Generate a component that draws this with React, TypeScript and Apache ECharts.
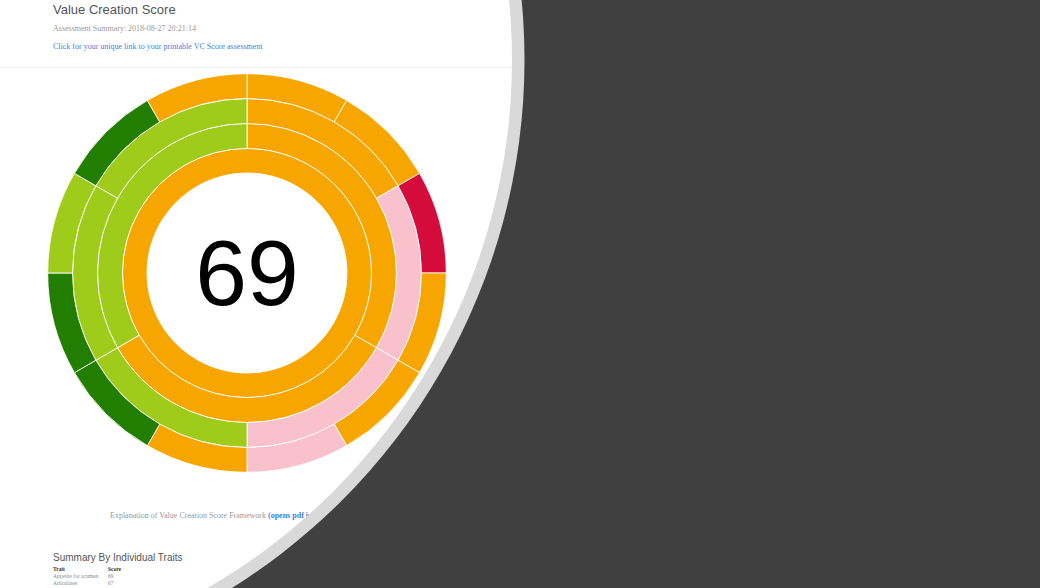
import React, { useEffect, useRef } from "react";
import * as echarts from "echarts";

// ---- data ----
const centerScore = "69";
// colour band of each node, ring by ring, clockwise from 12 o'clock
const ring1Bands = ["mid"];
const ring2Bands = ["mid", "mid", "good"];
const ring3Bands = ["mid", "low", "low", "good", "good", "good"];
const ring4Bands = ["mid", "mid", "poor", "mid", "mid", "low", "mid", "top", "top", "good", "top", "mid"];
const bandColors: Record<string, string> = {
  top: "#217E00",
  good: "#9FCC1B",
  mid: "#F7A600",
  low: "#F9C1CC",
  poor: "#D30C3C",
};
const traitRows = [
  ["Appetite for acumen", "69"],
  ["Articulates", "67"],
];

function buildTree() {
  let leafIdx = 0;
  let l3Idx = 0;
  const ring2 = ring2Bands.map((b2, i) => {
    const ch3 = [0, 1].map(() => {
      const b3 = ring3Bands[l3Idx];
      const idx3 = l3Idx++;
      const ch4 = [0, 1].map(() => {
        const b4 = ring4Bands[leafIdx];
        const idx4 = leafIdx++;
        return { name: "Trait " + (idx4 + 1), value: 1, itemStyle: { color: bandColors[b4] } };
      });
      return { name: "Facet " + (idx3 + 1), itemStyle: { color: bandColors[b3] }, children: ch4 };
    });
    return { name: "Dimension " + (i + 1), itemStyle: { color: bandColors[b2] }, children: ch3 };
  });
  return [{ name: "Value Creation", itemStyle: { color: bandColors[ring1Bands[0]] }, children: ring2 }];
}

function txt(x: number, y: number, text: string, size: number, fill: string, family: string, weight: any = "normal", align = "left", z = 5) {
  return {
    type: "text",
    x,
    y,
    z,
    style: {
      text,
      fontSize: size,
      fontFamily: family,
      fontWeight: weight,
      fill,
      align,
      verticalAlign: "middle",
      textAlign: align,
      textVerticalAlign: "middle",
    },
  };
}

export default function App() {
  const ref = useRef<HTMLDivElement>(null);
  useEffect(() => {
    const chart = echarts.init(ref.current!, undefined, { renderer: "svg" });
    const sans = "'Liberation Sans', Arial, sans-serif";
    const serif = "'Liberation Serif', 'Times New Roman', serif";
    const CX = -98, CY = 60, RW = 610, RG = 623;
    chart.setOption({
      animation: false,
      backgroundColor: "#ffffff",
      series: [
        {
          type: "sunburst",
          center: [247, 273],
          sort: null,
          startAngle: 90,
          nodeClick: false,
          data: buildTree(),
          label: { show: false },
          emphasis: { disabled: true },
          itemStyle: { borderColor: "rgba(255,255,255,0.85)", borderWidth: 1 },
          levels: [
            {},
            { r0: 100, r: 124.5 },
            { r0: 124.5, r: 149.5 },
            { r0: 149.5, r: 174.5 },
            { r0: 174.5, r: 199.3 },
          ],
        },
      ],
      graphic: [
        { type: "line", z: 1, shape: { x1: 0, y1: 67.5, x2: 540, y2: 67.5 }, style: { stroke: "#efefef", lineWidth: 1 } },
        txt(53, 9, "Value Creation Score", 13, "#555555", sans),
        txt(53, 28.7, "Assessment Summary: 2018-08-27 20:21:14", 8, "#9a9a9a", serif),
        txt(53, 46.7, "Click for your unique link to your printable VC Score assessment", 8, "#3f7fe0", serif),
        txt(247, 273, centerScore, 93, "#000000", sans, "normal", "center", 10),
        txt(110, 515, "Explanation of Value Creation Score Framework", 8, "#9a9a9a", serif),
        txt(268, 515, "(opens pdf in new window)", 8, "#3f7fe0", serif, "bold"),
        txt(53, 557, "Summary By Individual Traits", 10, "#555555", sans),
        txt(53, 569, "Trait", 5.5, "#333333", serif, "bold"),
        txt(108, 569, "Score", 5.5, "#333333", serif, "bold"),
        ...traitRows.flatMap((r, i) => [
          txt(53, 576 + i * 7, r[0], 5.5, "#888888", serif),
          txt(108, 576 + i * 7, r[1], 5.5, "#888888", serif),
        ]),
        { type: "ring", z: 100, shape: { cx: CX, cy: CY, r0: RW, r: RG }, style: { fill: "#d9d9d9" } },
        { type: "ring", z: 100, shape: { cx: CX, cy: CY, r0: RG - 0.5, r: 1600 }, style: { fill: "#404040" } },
      ],
    });
    return () => chart.dispose();
  }, []);
  return <div ref={ref} style={{ position: "fixed", left: 0, top: 0, width: 1040, height: 588 }} />;
}
